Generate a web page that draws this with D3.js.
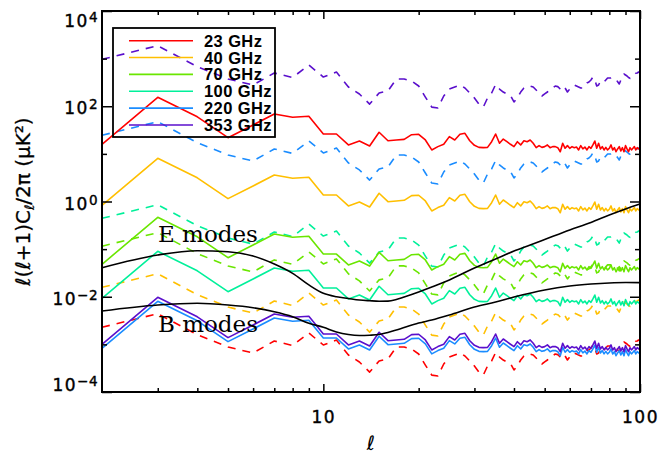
<!DOCTYPE html>
<html>
<head>
<meta charset="utf-8">
<script src="https://cdn.jsdelivr.net/npm/d3@7"></script>
<style>
  html, body { margin: 0; padding: 0; background: #ffffff; }
  svg { display: block; }
</style>
</head>
<body>
<script>
// ---------------- DATA ----------------
const frequencies = ["23 GHz", "40 GHz", "70 GHz", "100 GHz", "220 GHz", "353 GHz"];
const colors = ["#ff0000", "#ffbf00", "#6ae600", "#00f09a", "#1a8cff", "#5a0fcc"];

// multipoles l = 2 .. 100
const ell = d3.range(2, 101);

// Synchrotron spectrum at 23 GHz (solid red), l = 2..100
const syncTemplate = [
  15.9,154,60,21.9,40.4,68.7,58.6,61.5,26.1,26.1,
  15.4,18.6,14.6,28.4,18.9,19.6,20.2,25.3,25.8,19.6,
  12.1,14.2,15.9,23,19.6,25.8,27,18.9,15.1,13.7,
  13.5,13.7,18,26.1,16.7,20.5,18,15.9,14.2,18,
  15.4,18.9,18,19.6,16.7,13.5,14.9,13.7,14.2,15.4,
  13.5,14.2,14.2,13.5,11.1,16.7,13.1,14.9,13.1,14.2,
  13.5,13.9,12.1,14.9,12.7,13.9,12.1,14.2,13.1,15.4,
  18.6,13.1,16.7,12.7,14.2,12.1,13.7,12.1,13.1,15.4,
  12.1,13.5,11.1,12.7,14.2,11.5,13.5,11.1,14.9,12.7,
  11.1,13.5,12.1,13.1,14.2,12.1,13.5,12.7,13.1
];
// amplitude of each frequency's synchrotron curve relative to 23 GHz
const syncScale = [1, 0.0524, 0.00302, 5.84e-4, 5.21e-5, 6.32e-5];

// Dust spectrum at 353 GHz (dashed purple), l = 2..100
const dustTemplate = [
  968,1867,677,373,279,499,402,735,411,524,
  254,181,111,190,209,373,373,339,266,156,
  96,92,164,230,254,279,242,190,149,111,
  96,149,190,286,230,199,181,167,123,149,
  199,242,254,266,254,219,190,164,181,199,
  219,242,266,258,230,209,242,199,230,254,
  279,266,254,242,242,266,308,323,356,411,
  356,266,279,339,323,323,356,392,392,392,
  402,392,365,328,293,356,432,475,453,432,
  402,386,411,417,453,492,499,524,524
];
// amplitude of each frequency's dust curve relative to 353 GHz
const dustScale = [2.36e-6, 1.63e-5, 1.19e-4, 4.58e-4, 0.0254, 1];

// CMB theory curves
const eEll = [2,3,4,5,6,7,8,9,10,11,12,13,14,15,16,17,18,20,22,25,30,35,40,45,50,60,70,80,90,100];
const eVals = [0.0407,0.0753,0.0927,0.0883,0.0717,0.0487,0.0310,0.0177,0.0118,0.0100,0.0092,0.00855,0.00826,0.00807,0.00811,0.00875,0.00988,0.0126,0.0160,0.0225,0.0402,0.0621,0.0914,0.122,0.159,0.252,0.362,0.521,0.697,0.887];
const bEll = [2,3,4,5,6,7,8,9,10,11,12,13,14,15,17,20,22,25,30,35,40,50,60,70,80,90,100];
const bVals = [0.00502,0.00671,0.00728,0.00671,0.00589,0.00485,0.00381,0.00277,0.00229,0.00182,0.00161,0.00154,0.00156,0.00161,0.00200,0.00281,0.00325,0.00414,0.00610,0.00776,0.00988,0.0139,0.0168,0.0185,0.0195,0.0199,0.0198];

// tick values
const xMajorTicks = [10, 100];
const xMinorTicks = [3,4,5,6,7,8,9,20,30,40,50,60,70,80,90];
const yMajorTicks = [1e-4, 1e-2, 1, 1e2, 1e4];
const yMinorTicks = [1e-3, 1e-1, 10, 1e3];

// ---------------- CHART ----------------
const W = 661, H = 454;
const L = 102, R = 640, T = 11, B = 392;

const svg = d3.select("body").append("svg").attr("width", W).attr("height", H);

const x = d3.scaleLog().domain([2, 100]).range([L, R]);
const y = d3.scaleLog().domain([1e-4, 1e4]).range([B, T]);

const line = d3.line().x(d => x(d[0])).y(d => y(d[1]));
const smooth = d3.line().x(d => x(d[0])).y(d => y(d[1])).curve(d3.curveMonotoneX);

const plot = svg.append("g");

// dust (dashed)
frequencies.forEach((f, i) => {
  const pts = ell.map((l, k) => [l, dustTemplate[k] * dustScale[i]]);
  plot.append("path").datum(pts)
    .attr("d", line)
    .attr("fill", "none").attr("stroke", colors[i])
    .attr("stroke-width", 1.6)
    .attr("stroke-dasharray", "8,7")
    .attr("stroke-linejoin", "round");
});
// synchrotron (solid)
frequencies.forEach((f, i) => {
  const pts = ell.map((l, k) => [l, syncTemplate[k] * syncScale[i]]);
  plot.append("path").datum(pts)
    .attr("d", line)
    .attr("fill", "none").attr("stroke", colors[i])
    .attr("stroke-width", 1.6)
    .attr("stroke-linejoin", "round");
});
// CMB E and B
[[eEll, eVals], [bEll, bVals]].forEach(([ls, vs]) => {
  plot.append("path").datum(ls.map((l, k) => [l, vs[k]]))
    .attr("d", smooth)
    .attr("fill", "none").attr("stroke", "#000")
    .attr("stroke-width", 1.6);
});

// text labels on curves
svg.append("text").attr("x", 158).attr("y", 241.5)
  .attr("font-family", "DejaVu Serif").attr("font-size", 23).text("E modes");
svg.append("text").attr("x", 158).attr("y", 331.5)
  .attr("font-family", "DejaVu Serif").attr("font-size", 23).text("B modes");

// ---------------- AXES ----------------
const tickFont = "DejaVu Sans";
function styleAxis(g) {
  g.select(".domain").remove();
  g.selectAll(".tick line").attr("stroke", "#000").attr("stroke-width", 1.5);
  g.selectAll(".tick text").attr("font-family", tickFont).attr("font-size", 17)
    .attr("letter-spacing", 1.5).attr("fill", "#000")
    .attr("stroke", "#000").attr("stroke-width", 0.4);
}

// bottom
svg.append("g").attr("transform", `translate(0,${B})`)
  .call(d3.axisBottom(x).tickValues(xMajorTicks).tickSizeInner(-8).tickSizeOuter(0)
    .tickPadding(19).tickFormat(d3.format("d")))
  .call(styleAxis);
svg.append("g").attr("transform", `translate(0,${B})`)
  .call(d3.axisBottom(x).tickValues(xMinorTicks).tickSizeInner(-4).tickSizeOuter(0).tickFormat(""))
  .call(styleAxis);
// top
svg.append("g").attr("transform", `translate(0,${T})`)
  .call(d3.axisTop(x).tickValues(xMajorTicks).tickSizeInner(-8).tickSizeOuter(0).tickFormat(""))
  .call(styleAxis);
svg.append("g").attr("transform", `translate(0,${T})`)
  .call(d3.axisTop(x).tickValues(xMinorTicks).tickSizeInner(-4).tickSizeOuter(0).tickFormat(""))
  .call(styleAxis);
// left
const leftMajor = svg.append("g").attr("transform", `translate(${L},0)`)
  .call(d3.axisLeft(y).tickValues(yMajorTicks).tickSizeInner(-10).tickSizeOuter(0).tickPadding(4))
  .call(styleAxis);
leftMajor.selectAll(".tick text").each(function (d) {
  const t = d3.select(this);
  const e = Math.round(Math.log10(d));
  t.text(null);
  t.attr("dy", e === 4 ? 15.7 : (e === -4 ? -2 : 7.5));
  t.append("tspan").text("10");
  t.append("tspan").attr("dy", -5).attr("font-size", 13.5).attr("letter-spacing", 0.5)
    .text(e < 0 ? "\u2212" + (-e) : String(e));
});
svg.append("g").attr("transform", `translate(${L},0)`)
  .call(d3.axisLeft(y).tickValues(yMinorTicks).tickSizeInner(-5).tickSizeOuter(0).tickFormat(""))
  .call(styleAxis);
// right
svg.append("g").attr("transform", `translate(${R},0)`)
  .call(d3.axisRight(y).tickValues(yMajorTicks).tickSizeInner(-10).tickSizeOuter(0).tickFormat(""))
  .call(styleAxis);
svg.append("g").attr("transform", `translate(${R},0)`)
  .call(d3.axisRight(y).tickValues(yMinorTicks).tickSizeInner(-5).tickSizeOuter(0).tickFormat(""))
  .call(styleAxis);

// frame
svg.append("rect").attr("x", L).attr("y", T).attr("width", R - L).attr("height", B - T)
  .attr("fill", "none").attr("stroke", "#000").attr("stroke-width", 2);

// axis titles
svg.append("text").attr("x", (L + R) / 2).attr("y", 450).attr("text-anchor", "middle")
  .attr("font-family", "DejaVu Sans").attr("font-style", "italic").attr("font-size", 20).text("\u2113");

const yt = svg.append("text")
  .attr("transform", `translate(30,${(T + B) / 2}) rotate(-90)`)
  .attr("text-anchor", "middle")
  .attr("font-family", "DejaVu Sans").attr("font-size", 20).attr("fill", "#000")
  .attr("stroke", "#000").attr("stroke-width", 0.3);
yt.append("tspan").text("\u2113(\u2113+1)C");
yt.append("tspan").attr("font-size", 13).attr("dy", 4).text("\u2113");
yt.append("tspan").attr("dy", -4).text("/2\u03c0  (\u03bcK\u00b2)");

// ---------------- LEGEND ----------------
const lg = svg.append("g");
lg.append("rect").attr("x", 113).attr("y", 28).attr("width", 162).attr("height", 109)
  .attr("fill", "none").attr("stroke", "#000").attr("stroke-width", 1.8);
frequencies.forEach((f, i) => {
  const yy = 40.7 + i * 16.85;
  lg.append("line").attr("x1", 129).attr("x2", 193).attr("y1", yy).attr("y2", yy)
    .attr("stroke", colors[i]).attr("stroke-width", 1.6);
  lg.append("text").attr("x", 204).attr("y", yy + 6)
    .attr("font-family", "Liberation Sans").attr("font-weight", "bold").attr("font-size", 16.5)
    .attr("letter-spacing", 0.4).text(f);
});
</script>
</body>
</html>
